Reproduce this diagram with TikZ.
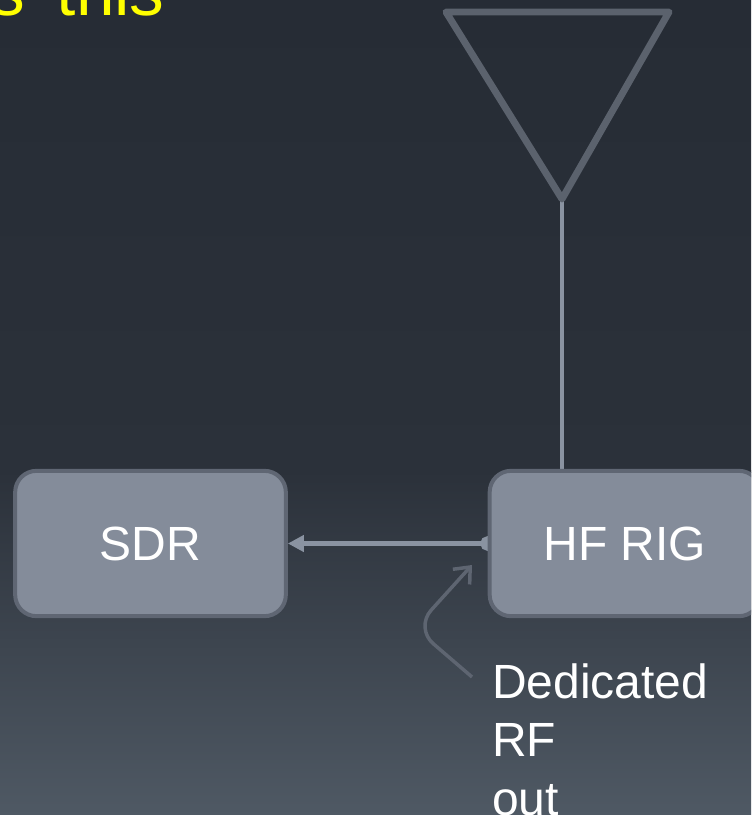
\documentclass[tikz,border=0pt]{standalone}
\usepackage{fontspec}
\setmainfont{Liberation Sans}
\usepackage{xcolor}
\usetikzlibrary{arrows.meta}

\definecolor{bgtop}{HTML}{262C35}
\definecolor{bgmid}{HTML}{2B313A}
\definecolor{bgbot}{HTML}{4F5964}
\definecolor{boxfill}{HTML}{848C9A}
\definecolor{boxline}{HTML}{5F6673}
\definecolor{wirecol}{HTML}{8A93A1}
\definecolor{antcol}{HTML}{5B626D}
\definecolor{notecol}{HTML}{5E6571}
\definecolor{headyellow}{HTML}{FFFF00}

\pgfdeclarelayer{bg}
\pgfdeclarelayer{wires}
\pgfsetlayers{bg,wires,main}

\begin{document}
\begin{tikzpicture}[x=0.75pt, y=-0.75pt,
    block/.style={draw=boxline, line width=3pt, fill=boxfill, rounded corners=16pt,
        minimum width=203pt, minimum height=109pt, text=white,
        font=\fontsize{36}{44}\selectfont},
    notetext/.style={inner sep=0pt, align=left, text=white, font=\fontsize{36}{44}\selectfont},
    headtext/.style={inner sep=0pt, text=headyellow, font=\fontsize{52}{60}\selectfont},
    antenna/.style={draw=antcol, line width=5.2pt, line join=round},
    wire/.style={draw=wirecol, line width=3.6pt},
    callout/.style={draw=notecol, line width=2.6pt, rounded corners=18pt,
        -{Straight Barb[length=10pt, width=17pt]}}]
    \useasboundingbox (0,0) rectangle (751,815);
    \clip (0,0) rectangle (751,815);

    \begin{pgfonlayer}{bg}
        \shade[top color=bgtop, bottom color=bgmid] (0,0) rectangle (751,472);
        \shade[top color=bgmid, bottom color=bgbot] (0,470) rectangle (751,816);
    \end{pgfonlayer}

    % title, cut off at the top
    \node[headtext, anchor=base east] (head) at (165,15) {s\hspace{0.45em}this};

    % blocks
    \node[block] (sdr) at (150.5,543.5) {SDR};
    \node[block] (rig) at (625,543.5) {HF RIG};
    \node[notetext, anchor=north west] (rfnote) at (492,663) {Dedicated\\RF\\out};

    % antenna
    \coordinate (feed) at (562,199);
    \draw[antenna] (446,12) -- (669,12) -- (feed) -- cycle;

    \begin{pgfonlayer}{wires}
        \draw[wire, line width=3pt] (feed) -- (rig.north -| feed);
        \draw[wire, {Circle[length=11pt]}-{Triangle[length=12pt, width=12pt]}, shorten <=-5.5pt]
            (rig.west) -- (sdr.east);
    \end{pgfonlayer}

    % pointer to the RF port
    \coordinate (rftail) at (472,677);
    \coordinate (rftip) at (472,565);
    \draw[callout] (rftail) -- (415,628) -- (rftip);
\end{tikzpicture}
\end{document}
